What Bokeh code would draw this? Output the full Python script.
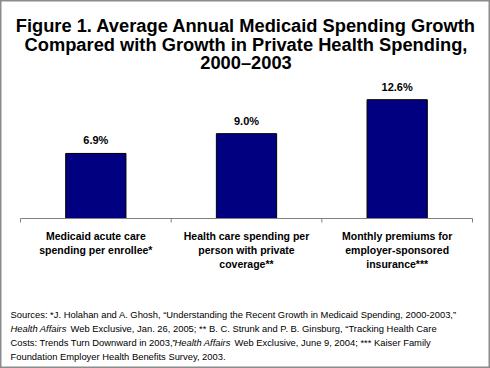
from bokeh.plotting import figure
from bokeh.models import Range1d, ColumnDataSource, LabelSet, Label
from bokeh.core.properties import value
from bokeh.embed import file_html
from bokeh.resources import INLINE

# ---- data ----
categories = ["Medicaid acute care\nspending per enrollee*",
              "Health care spending per\nperson with private\ncoverage**",
              "Monthly premiums for\nemployer-sponsored\ninsurance***"]
values = [6.9, 9.0, 12.6]
value_labels = ["6.9%", "9.0%", "12.6%"]
title_lines = ["Figure 1. Average Annual Medicaid Spending Growth",
               "Compared with Growth in Private Health Spending,",
               "2000\u20132003"]
source_lines = [
    [("Sources: *J. Holahan and A. Ghosh, \u201cUnderstanding the Recent Growth in Medicaid Spending, 2000-2003,\u201d", "normal")],
    [("Health Affairs", "italic"),
     ("Web Exclusive, Jan. 26, 2005; **  B. C. Strunk and P. B. Ginsburg, \u201cTracking Health Care", "normal")],
    [("Costs: Trends Turn Downward in 2003,\u201d", "normal"), ("Health Affairs", "italic"),
     ("Web Exclusive, June 9, 2004; ***  Kaiser Family", "normal")],
    [("Foundation Employer Health Benefits Survey, 2003.", "normal")],
]

W, H = 490, 368
FONT = "Liberation Sans"
AX_L, AX_R, PLOT_T, AX_Y = 20, 472, 86, 218   # value-axis geometry in pixels
YMAX = 14
NCAT = len(categories)
SX = NCAT / (AX_R - AX_L)
SY = YMAX / (AX_Y - PLOT_T)


def xd(px):
    return (px - AX_L) * SX


def yd(py):
    return (AX_Y - py) * SY


p = figure(width=W, height=H, output_backend="svg", toolbar_location=None,
           x_range=Range1d(xd(0), xd(W)), y_range=Range1d(yd(H), yd(0)),
           x_axis_location=None, y_axis_location=None,
           min_border=0, min_border_left=0, min_border_right=0,
           min_border_top=0, min_border_bottom=0)
p.background_fill_color = "white"
p.border_fill_color = "white"
p.outline_line_color = "#8c8c8c"
p.outline_line_width = 2
p.grid.visible = False

xs = [i + 0.5 for i in range(NCAT)]
src = ColumnDataSource(dict(x=xs, top=values, lab=value_labels))
p.vbar(x="x", top="top", width=0.4, bottom=0, source=src,
       fill_color="#000080", line_color="#000000", line_width=1)

# category axis: baseline and boundary ticks
ticks = list(range(NCAT + 1))
p.segment(x0=[0], y0=[0], x1=[NCAT], y1=[0], line_color="#808080", line_width=1)
p.segment(x0=ticks, y0=[0] * len(ticks), x1=ticks, y1=[-4 * SY] * len(ticks),
          line_color="#808080", line_width=1)

p.add_layout(LabelSet(x="x", y="top", text="lab", source=src, y_offset=9,
                      text_align="center", text_baseline="alphabetic",
                      text_font=value(FONT), text_font_style="bold",
                      text_font_size="11px", text_color="black"))

# category labels, one LabelSet per line
split = [c.split("\n") for c in categories]
nlines = max(len(s) for s in split)
for k in range(nlines):
    lsrc = ColumnDataSource(dict(x=xs, y=[yd(239 + 14.1 * k)] * NCAT,
                                 t=[s[k] if k < len(s) else "" for s in split]))
    p.add_layout(LabelSet(x="x", y="y", text="t", source=lsrc,
                          text_align="center", text_baseline="alphabetic",
                          text_font=value(FONT), text_font_style="bold",
                          text_font_size="10.5px", text_color="black"))

for line, base in zip(title_lines, [25, 43.7, 62]):
    p.add_layout(Label(x=xd(245.5), y=yd(base), text=line,
                       text_align="center", text_baseline="alphabetic",
                       text_font=FONT, text_font_style="bold",
                       text_font_size="18.3px", text_color="black"))

piece_x = [[10], [10, 70], [10, 174, 234], [10]]
for line, xsl, cy in zip(source_lines, piece_x, [314, 327.7, 341.7, 355.7]):
    for (t, st), px in zip(line, xsl):
        p.add_layout(Label(x=xd(px), y=yd(cy), text=t,
                           text_align="left", text_baseline="middle",
                           text_font=FONT, text_font_style=st,
                           text_font_size="9.4px", text_color="black"))

open("out.html", "w").write(file_html(p, INLINE))
